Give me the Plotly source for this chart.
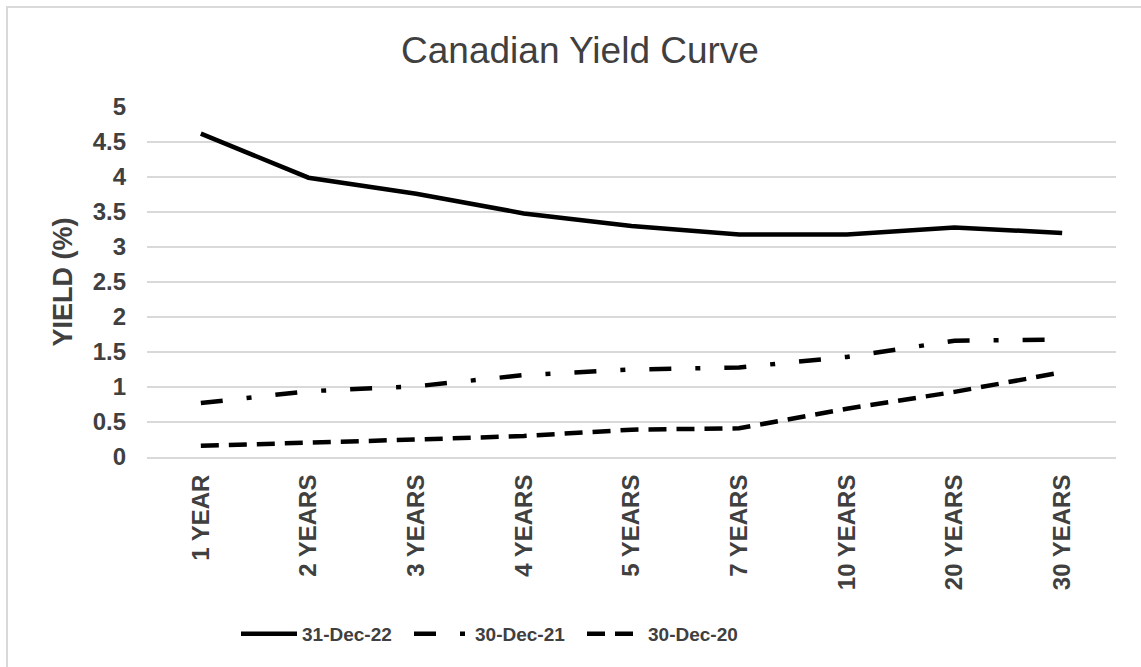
import plotly.graph_objects as go

categories = ["1 YEAR", "2 YEARS", "3 YEARS", "4 YEARS", "5 YEARS",
              "7 YEARS", "10 YEARS", "20 YEARS", "30 YEARS"]
yield_2022 = [4.62, 3.99, 3.76, 3.48, 3.30, 3.18, 3.18, 3.28, 3.20]
yield_2021 = [0.77, 0.94, 1.01, 1.17, 1.25, 1.28, 1.43, 1.66, 1.68]
yield_2020 = [0.16, 0.20, 0.25, 0.30, 0.39, 0.41, 0.69, 0.93, 1.21]
series_names = ["31-Dec-22", "30-Dec-21", "30-Dec-20"]
y_ticks = [0, 0.5, 1, 1.5, 2, 2.5, 3, 3.5, 4, 4.5, 5]
y_tick_text = ["0", "0.5", "1", "1.5", "2", "2.5", "3", "3.5", "4", "4.5", "5"]

TXT = "#404040"
FONT = "Liberation Sans, Arial, sans-serif"

fig = go.Figure()
fig.add_trace(go.Scatter(x=categories, y=yield_2022, mode="lines", name=series_names[0],
                         line=dict(color="black", width=4.5)))
fig.add_trace(go.Scatter(x=categories, y=yield_2021, mode="lines", name=series_names[1],
                         line=dict(color="black", width=4.5, dash="22px,24px,5px,24px")))
fig.add_trace(go.Scatter(x=categories, y=yield_2020, mode="lines", name=series_names[2],
                         line=dict(color="black", width=4.5, dash="18px,10px")))

W, H = 1141, 667
L, R, T, B = 147, 1116, 107, 457
pw, ph = R - L, B - T

def px(x):
    return (x - L) / pw

def py(y):
    return (B - y) / ph

fig.update_layout(
    width=W, height=H,
    margin=dict(l=L, r=W - R, t=T, b=H - B),
    paper_bgcolor="white", plot_bgcolor="white",
    font=dict(family=FONT, color=TXT),
    title=dict(text="Canadian Yield Curve", x=580 / W, xanchor="center",
               y=1 - 50 / H, yanchor="middle",
               font=dict(size=37, color=TXT, family=FONT)),
    showlegend=True,
    legend=dict(orientation="h", x=px(236), xanchor="left", y=py(634), yanchor="middle",
                font=dict(size=19, color=TXT, family=FONT, weight="bold"),
                itemwidth=56, entrywidth=102, bgcolor="rgba(0,0,0,0)"),
    xaxis=dict(type="category", range=[-0.5, 8.5], showgrid=False,
               showline=True, linecolor="#d9d9d9", linewidth=2,
               tickangle=-90, ticks="", ticklabelstandoff=6,
               tickfont=dict(size=24, color=TXT, family=FONT, weight="bold"),
               fixedrange=True),
    yaxis=dict(range=[0, 5], tickvals=y_ticks, ticktext=y_tick_text,
               showgrid=True, gridcolor="#d9d9d9", gridwidth=2,
               zeroline=False, showline=False, ticks="", ticklabelstandoff=20,
               tickfont=dict(size=24, color=TXT, family=FONT, weight="bold"),
               title=dict(text="YIELD (%)", standoff=12,
                          font=dict(size=27, color=TXT, family=FONT, weight="bold")),
               fixedrange=True),
    shapes=[dict(type="rect", xref="paper", yref="paper",
                 x0=px(7), x1=px(W + 10), y0=py(H + 10), y1=py(7),
                 line=dict(color="#d9d9d9", width=2), fillcolor="rgba(0,0,0,0)", layer="below")],
)

fig.write_html("out.html")
